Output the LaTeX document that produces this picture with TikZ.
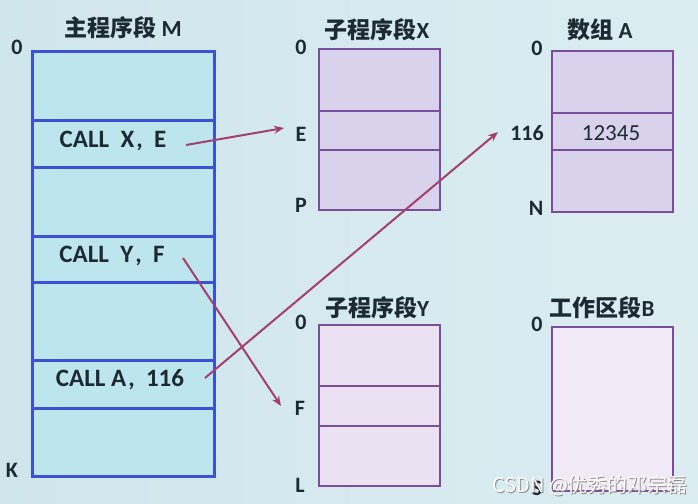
\documentclass[tikz,border=0pt]{standalone}
\usepackage{fontspec}
\setmainfont{Carlito}
\newfontfamily\cjk{Noto Sans CJK SC}
\usetikzlibrary{arrows.meta}
\definecolor{bgl}{HTML}{CFE6EC}
\definecolor{bgr}{HTML}{DCEDF1}
\definecolor{mblue}{HTML}{3C50D8}
\definecolor{mfill}{HTML}{BDE5EE}
\definecolor{pborder}{HTML}{7A4E9C}
\definecolor{xfill}{HTML}{D9D2EC}
\definecolor{yfill}{HTML}{ECE1F3}
\definecolor{bfill}{HTML}{F2E9F6}
\definecolor{arr}{HTML}{A3406E}
\definecolor{txt}{HTML}{1E2A33}
\begin{document}
\begin{tikzpicture}[x=1pt,y=-1pt,
  mrow/.style={draw=mblue, fill=mfill, line width=2.6, minimum width=182, inner sep=0, anchor=north west},
  prow/.style={draw=pborder, line width=2.4, minimum width=121, inner sep=0, anchor=north west},
  lbl/.style={font=\bfseries\fontsize{22}{22}\selectfont, text=txt, inner sep=0},
  calltxt/.style={font=\bfseries\fontsize{25}{25}\selectfont, text=txt, inner sep=0},
  ttl/.style={font=\bfseries\fontsize{23}{23}\selectfont, text=txt, inner sep=0},
  wmark/.style={font=\cjk\fontsize{20}{20}\selectfont, anchor=west, inner sep=0},
  link/.style={draw=arr, line width=2, -{Stealth[length=10,width=8]}}]
\shade[left color=bgl, right color=bgr] (0,0) rectangle (698,503);
\useasboundingbox (0,0) rectangle (698,503);
% main segment M
\node[mrow, minimum height=69] (m1) at (31,50) {};
\node[mrow, minimum height=47] (m2) at (31,119) {};
\node[mrow, minimum height=69] (m3) at (31,166) {};
\node[mrow, minimum height=46] (m4) at (31,235) {};
\node[mrow, minimum height=78] (m5) at (31,281) {};
\node[mrow, minimum height=48] (m6) at (31,359) {};
\node[mrow, minimum height=68] (m7) at (31,407) {};
\node[calltxt] (c1) at (113,141) {CALL\ \ X\kern2pt,\ \ E};
\node[calltxt] (c2) at (112,256) {CALL\ \ Y\kern2pt,\ \ F};
\node[calltxt] (c3) at (120,380) {CALL\ A\kern2pt,\ \ 116};
\node[ttl] (tm) at (123,28) {{\cjk 主程序段} M};
\node[lbl] (m0) at (17,47) {0};
\node[lbl] (mk) at (12,470) {K};
% sub segment X
\node[prow, fill=xfill, minimum height=62] (x1) at (318,48) {};
\node[prow, fill=xfill, minimum height=39] (x2) at (318,110) {};
\node[prow, fill=xfill, minimum height=60] (x3) at (318,149) {};
\node[ttl] (tx) at (377,30) {{\cjk 子程序段}X};
\node[lbl] (x0) at (301,47) {0};
\node[lbl] (xe) at (301,134) {E};
\node[lbl] (xp) at (301,205) {P};
% array A
\node[prow, fill=xfill, minimum height=62] (a1) at (551,50) {};
\node[prow, fill=xfill, minimum height=37] (a2) at (551,112) {};
\node[prow, fill=xfill, minimum height=62] (a3) at (551,149) {};
\node[font=\fontsize{23}{23}\selectfont, text=txt, inner sep=0] (av) at (611,133) {12345};
\node[ttl] (ta) at (600,30) {{\cjk 数组} A};
\node[lbl] (a0) at (537,48) {0};
\node[lbl] (a116) at (527,133) {116};
\node[lbl] (an) at (536,208) {N};
% sub segment Y
\node[prow, fill=yfill, minimum height=61] (y1) at (318,324) {};
\node[prow, fill=yfill, minimum height=40] (y2) at (318,385) {};
\node[prow, fill=yfill, minimum height=60] (y3) at (318,425) {};
\node[ttl] (ty) at (377,308) {{\cjk 子程序段}Y};
\node[lbl] (y0) at (301,322) {0};
\node[lbl] (yf) at (300,408) {F};
\node[lbl] (yl) at (300,485) {L};
% work area B
\node[prow, fill=bfill, minimum height=164] (b1) at (551,326) {};
\node[ttl] (tb) at (602,308) {{\cjk 工作区段}B};
\node[lbl] (b0) at (537,324) {0};
\node[lbl] (bs) at (537,488) {S};
% connectors
\coordinate (s1) at (186,145);
\coordinate (e1) at (284,128);
\coordinate (s2) at (183,258);
\coordinate (e2) at (281,406);
\coordinate (s3) at (205,378);
\coordinate (e3) at (498,132);
\draw[link] (s1) -- (e1);
\draw[link] (s2) -- (e2);
\draw[link] (s3) -- (e3);
% watermark
\node[wmark, text=black!45] (wms) at (493,487) {CSDN @优秀的邓宗磊};
\node[wmark, text=white] (wm) at (492,486) {CSDN @优秀的邓宗磊};
\end{tikzpicture}
\end{document}
